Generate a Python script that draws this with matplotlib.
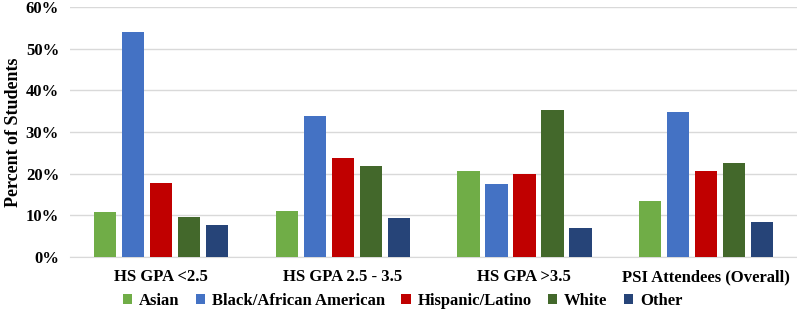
import matplotlib
matplotlib.use("Agg")
import matplotlib.pyplot as plt
import numpy as np
from matplotlib.ticker import PercentFormatter

categories = ["HS GPA <2.5", "HS GPA 2.5 - 3.5", "HS GPA >3.5", "PSI Attendees (Overall)"]
series_names = ["Asian", "Black/African American", "Hispanic/Latino", "White", "Other"]
asian = [10.9, 11.1, 20.6, 13.5]
black = [54.0, 33.8, 17.4, 34.8]
hispanic = [17.8, 23.8, 19.9, 20.7]
white = [9.5, 21.9, 35.3, 22.6]
other = [7.7, 9.3, 7.0, 8.3]
series_values = [asian, black, hispanic, white, other]
colors = ["#70AD47", "#4472C4", "#C00000", "#43682B", "#264478"]

plt.rcParams['font.family'] = ['Liberation Serif', 'DejaVu Serif']
plt.rcParams['font.weight'] = 'bold'

fig = plt.figure(figsize=(7.97, 3.10), dpi=100)
ax = fig.add_axes([0.088, 0.171, 0.912, 0.807])

x = np.arange(len(categories))
pitch = 0.154
width = 0.123
for i, (name, vals, c) in enumerate(zip(series_names, series_values, colors)):
    ax.bar(x + (i - 2) * pitch, vals, width=width, color=c, label=name, zorder=3)

ax.set_xlim(-0.5, len(categories) - 0.5)
ax.set_ylim(0, 60)
ax.set_yticks(np.arange(0, 61, 10))
ax.yaxis.set_major_formatter(PercentFormatter(decimals=0))
ax.set_xticks(x)
ax.set_xticklabels(categories)
ax.tick_params(axis='both', length=0, labelsize=12)
ax.tick_params(axis='x', pad=9)
ax.tick_params(axis='y', pad=8)
for lbl in ax.get_xticklabels() + ax.get_yticklabels():
    lbl.set_fontweight('bold')
ax.grid(axis='y', color='#d9d9d9', linewidth=1, zorder=0)
for s in ['top', 'right', 'left']:
    ax.spines[s].set_visible(False)
ax.spines['bottom'].set_color('#d9d9d9')
ax.set_ylabel("Percent of Students", fontsize=13, fontweight='bold', labelpad=3)

leg = fig.legend(loc='lower center', bbox_to_anchor=(0.505, -0.045), ncol=5, frameon=False,
                 handlelength=0.55, handleheight=0.55, handletextpad=0.4, columnspacing=1.0,
                 prop={'size': 12, 'weight': 'bold'})

fig.savefig("out.png", dpi=100)
